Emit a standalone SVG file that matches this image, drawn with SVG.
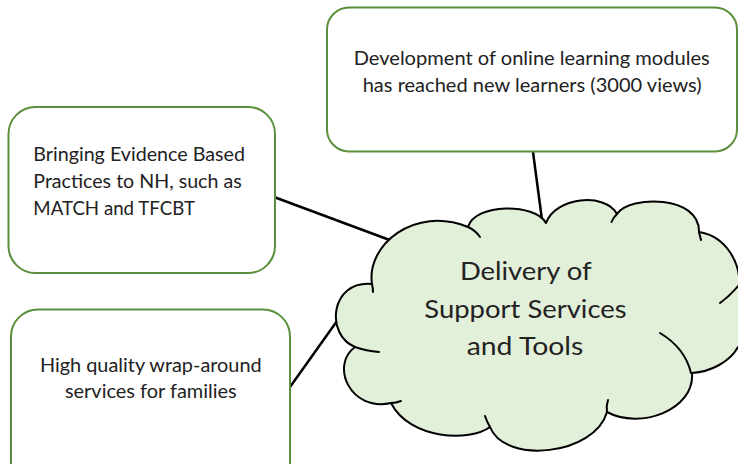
<svg xmlns="http://www.w3.org/2000/svg" width="738" height="464" viewBox="0 0 738 464">
  <style>
    .box { fill: #ffffff; stroke: #5a8f3c; stroke-width: 2; }
    .conn { stroke: #000000; stroke-width: 2.5; fill: none; }
    .cloud { fill: #e2efd9; stroke: #000000; stroke-width: 2; stroke-linejoin: round; }
    .stub { fill: none; stroke: #000000; stroke-width: 2; stroke-linecap: round; }
    .t { font-family: Lato, "Open Sans", "Liberation Sans", sans-serif; font-size: 18.5px; fill: #222222; }
    .c { text-anchor: middle; }
    .big { font-family: Lato, "Open Sans", "Liberation Sans", sans-serif; font-size: 25.5px; fill: #222222; text-anchor: middle; }
  </style>
  <rect width="738" height="464" fill="#ffffff"/>

  <g id="connectors">
    <line class="conn" x1="533" y1="152" x2="542" y2="220"/>
    <line class="conn" x1="274" y1="197" x2="395" y2="242"/>
    <line class="conn" x1="290" y1="387" x2="342" y2="314"/>
  </g>

  <g id="node-top">
    <rect class="box" x="327" y="7.5" width="410" height="144" rx="22" ry="22"/>
    <text class="t c" x="531.7" y="64.5" textLength="356" lengthAdjust="spacingAndGlyphs">Development of online learning modules</text>
    <text class="t c" x="532.2" y="91.5" textLength="339" lengthAdjust="spacingAndGlyphs">has reached new learners (3000 views)</text>
  </g>

  <g id="node-left">
    <rect class="box" x="8.5" y="107" width="266.5" height="166" rx="27" ry="27"/>
    <text class="t" x="33.3" y="161" textLength="211.7" lengthAdjust="spacingAndGlyphs">Bringing Evidence Based</text>
    <text class="t" x="33.3" y="188.3" textLength="208.4" lengthAdjust="spacingAndGlyphs">Practices to NH, such as</text>
    <text class="t" x="33.3" y="215" textLength="161.7" lengthAdjust="spacingAndGlyphs">MATCH and TFCBT</text>
  </g>

  <g id="node-bottom">
    <rect class="box" x="11" y="309.5" width="279" height="190" rx="27" ry="27"/>
    <text class="t c" x="150.8" y="371.7" textLength="221.7" lengthAdjust="spacingAndGlyphs">High quality wrap-around</text>
    <text class="t c" x="150.8" y="398.3" textLength="171.7" lengthAdjust="spacingAndGlyphs">services for families</text>
  </g>

  <g id="node-cloud">
    <path class="cloud" d="M372,284
      C366,245 415,205 468,227
      C475,203 535,203 546,223
      C555,197 605,192 617,214
      C630,195 700,195 699,232
      C725,236 742,262 739,290
      L750,290 L750,347 L738,347
      C730,362 710,372 692,373
      C695,410 640,430 607,412
      C595,455 505,465 490,427
      C470,442 410,440 391,403
      C350,412 330,365 355,347
      C325,335 330,280 372,284 Z"/>
    <path class="stub" d="M468,227 Q475,230 480,237"/>
    <path class="stub" d="M617,214 Q613,218 611.5,222"/>
    <path class="stub" d="M699,232 Q700,236 701,240"/>
    <path class="stub" d="M720,303 Q730,296 740,284"/>
    <path class="stub" d="M660,333 Q685,348 691,373"/>
    <path class="stub" d="M608,400 Q606,406 607,412"/>
    <path class="stub" d="M485,416 Q487,422 490,427"/>
    <path class="stub" d="M391,403 Q396,403 401,401"/>
    <path class="stub" d="M355,347 Q366,351 379,352"/>
    <path class="stub" d="M372,284 Q373,288 373,292"/>
    <text class="big" x="525.8" y="280" textLength="131.7" lengthAdjust="spacingAndGlyphs">Delivery of</text>
    <text class="big" x="525.5" y="318.3" textLength="202.4" lengthAdjust="spacingAndGlyphs">Support Services</text>
    <text class="big" x="525" y="355" textLength="116.6" lengthAdjust="spacingAndGlyphs">and Tools</text>
  </g>
</svg>
